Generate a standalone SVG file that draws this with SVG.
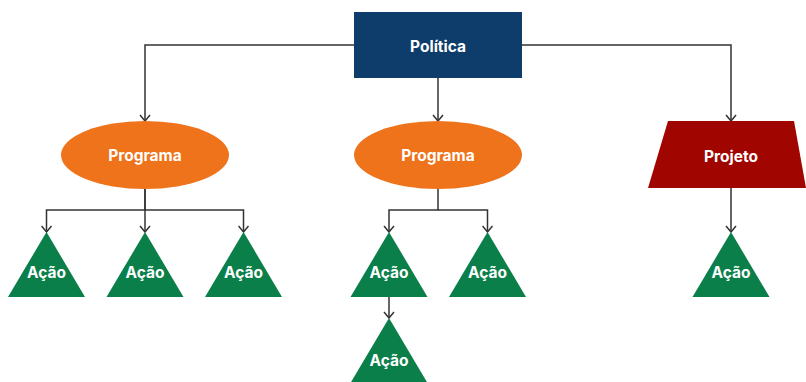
<svg xmlns="http://www.w3.org/2000/svg" width="806" height="382" viewBox="0 0 806 382">
<defs>
<marker id="arr" viewBox="0 0 12 12" refX="11" refY="6" markerWidth="12" markerHeight="12" markerUnits="userSpaceOnUse" orient="auto">
<path d="M5,1 L11,6 L5,11" fill="none" stroke="#333333" stroke-width="1.5"/>
</marker>
<style>
.c{fill:none;stroke:#333333;stroke-width:1.5;marker-end:url(#arr)}
.t{font-family:Inter,"Noto Sans","Liberation Sans",sans-serif;font-weight:700;font-size:15.5px;fill:#ffffff;text-anchor:middle;dominant-baseline:central}
.a{fill:#0a7f4a}
</style>
</defs>
<rect width="806" height="382" fill="#ffffff"/>
<g id="connectors">
<path class="c" d="M354,45 H145 V121"/>
<path class="c" d="M522,45 H731 V121"/>
<path class="c" d="M438,78 V121"/>
<path class="c" d="M145,189 V210 H46.5 V232"/>
<path class="c" d="M145,189 V232"/>
<path class="c" d="M145,210 H243.5 V232"/>
<path class="c" d="M438,189 V210 H389 V232"/>
<path class="c" d="M438,210 H487.5 V232"/>
<path class="c" d="M389,297 V318"/>
<path class="c" d="M731,188 V232"/>
</g>
<g id="politica"><rect x="354" y="12" width="168" height="66" fill="#0e3d6b"/><text class="t" x="438" y="46">Política</text></g>
<g id="programa1"><ellipse cx="145" cy="155" rx="84" ry="34" fill="#ee731b"/><text class="t" x="145" y="155">Programa</text></g>
<g id="programa2"><ellipse cx="438" cy="155" rx="84" ry="34" fill="#ee731b"/><text class="t" x="438" y="155">Programa</text></g>
<g id="projeto"><polygon points="668,121 794,121 806,188 648,188" fill="#a10500"/><text class="t" x="731" y="156">Projeto</text></g>
<g id="acao1"><polygon class="a" points="46.5,232 85,297 8,297"/><text class="t" x="46.5" y="272">Ação</text></g>
<g id="acao2"><polygon class="a" points="145,232 183.5,297 106.5,297"/><text class="t" x="145" y="272">Ação</text></g>
<g id="acao3"><polygon class="a" points="243.5,232 282,297 205,297"/><text class="t" x="243.5" y="272">Ação</text></g>
<g id="acao4"><polygon class="a" points="389,232 427.5,297 350.5,297"/><text class="t" x="389" y="272">Ação</text></g>
<g id="acao5"><polygon class="a" points="487.5,232 526,297 449,297"/><text class="t" x="487.5" y="272">Ação</text></g>
<g id="acao6"><polygon class="a" points="389,318 427.5,383 350.5,383"/><text class="t" x="389" y="360">Ação</text></g>
<g id="acao7"><polygon class="a" points="731,232 769.5,297 692.5,297"/><text class="t" x="731" y="272">Ação</text></g>
</svg>
